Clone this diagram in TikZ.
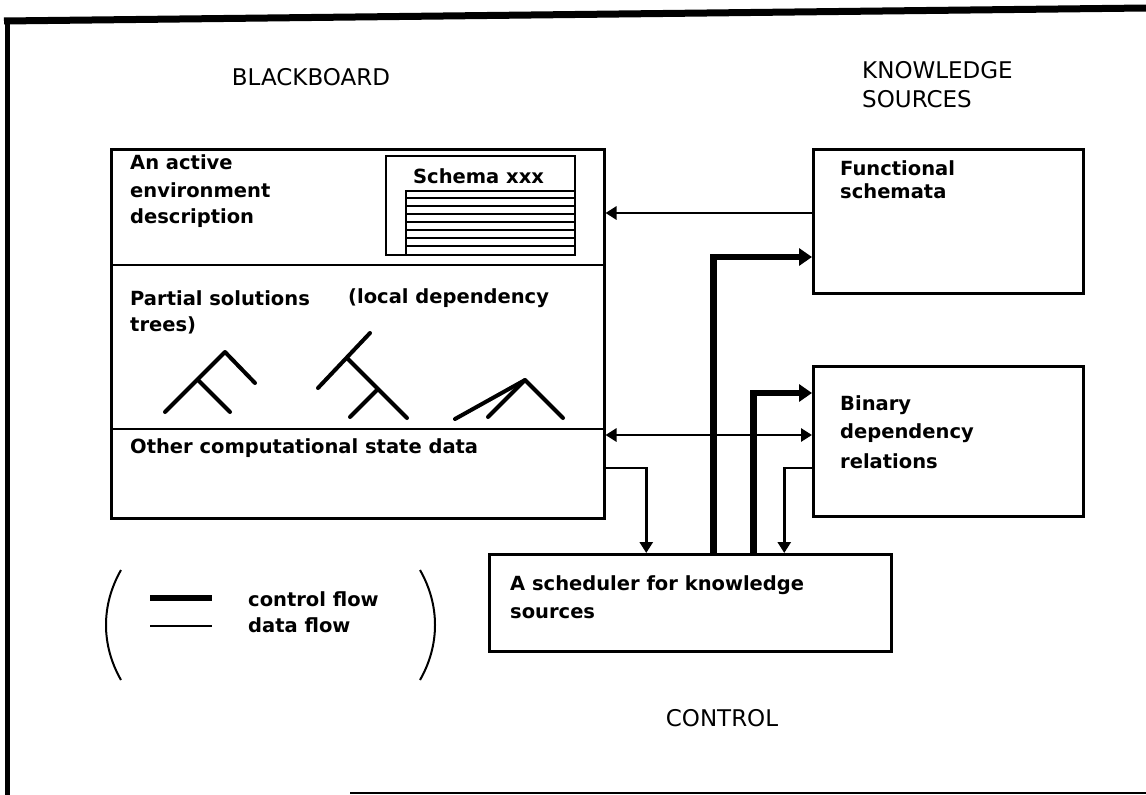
\documentclass[tikz,border=0pt]{standalone}
\usepackage{fontspec}
\setmainfont{DejaVu Sans}
\usetikzlibrary{arrows.meta,calc}
\begin{document}
\begin{tikzpicture}[x=1pt,y=-1pt,
  box/.style={draw,line width=2.5pt,inner sep=0pt,anchor=north west},
  lbl/.style={inner sep=0pt,anchor=west,font=\bfseries\fontsize{19.5}{23}\selectfont},
  ttl/.style={inner sep=0pt,font=\fontsize{23}{29}\selectfont},
  data/.style={line width=2.8pt,-{Triangle[length=11pt,width=13pt]}},
  datab/.style={line width=2.8pt,{Triangle[length=11pt,width=13pt]}-{Triangle[length=11pt,width=13pt]}},
  ctrl/.style={line width=6.5pt,-{Triangle[length=13pt,width=17pt]}},
  tree/.style={line width=4pt,line cap=round,line join=round}]
\useasboundingbox (0,0) rectangle (1146,795);
% frame
\draw[line width=7pt] (4,21) -- (1146,8);
\draw[line width=5pt] (7,18) -- (7,795);
\draw[line width=2pt] (350,793) -- (1146,793);
% titles
\node[ttl] (tbb) at (311,77) {BLACKBOARD};
\node[ttl,align=left,anchor=north west] (tks) at (862,61) {KNOWLEDGE\\SOURCES};
\node[ttl] (tct) at (722,718) {CONTROL};
% blackboard
\node[box,minimum width=493pt,minimum height=369pt] (bb) at (110,148) {};
\coordinate (d1) at (110,265);
\coordinate (d2) at (110,429);
\draw[line width=2.5pt] (d1) -- (d1 -| bb.east);
\draw[line width=2.5pt] (d2) -- (d2 -| bb.east);
\node[lbl] (t1) at (130,162) {An active};
\node[lbl] (t2) at (130,190) {environment};
\node[lbl] (t3) at (130,218) {description};
% schema
\node[box,line width=2pt,minimum width=189pt,minimum height=99pt] (sc) at (385,155) {};
\node[lbl] (sct) at (413,176) {Schema xxx};
\node[box,line width=2pt,minimum width=169pt,minimum height=64pt] (scl) at (405,190) {};
\foreach \k in {1,...,7} {\draw[line width=2pt] ($(scl.north west)+(0,8*\k)$) -- ($(scl.north east)+(0,8*\k)$);}
\node[lbl] (p1) at (130,298) {Partial solutions};
\node[lbl] (p2) at (348,298) {(local dependency};
\node[lbl] (p3) at (130,325) {trees)};
% trees
\draw[tree] (165,412) -- (225,352) -- (255,383);
\draw[tree] (198,380) -- (230,412);
\draw[tree] (318,388) -- (370,333);
\draw[tree] (347,358) -- (407,418);
\draw[tree] (377,390) -- (350,417);
\draw[tree] (455,419) -- (525,380) -- (563,418);
\draw[tree] (488,417) -- (525,380);
\node[lbl] (o1) at (130,448) {Other computational state data};
% knowledge sources
\node[box,minimum width=270pt,minimum height=144pt] (fs) at (812,148) {};
\node[lbl] (f1) at (840,168) {Functional};
\node[lbl] (f2) at (840,191) {schemata};
\node[box,minimum width=270pt,minimum height=150pt] (bd) at (812,365) {};
\node[lbl] (b1) at (840,405) {Binary};
\node[lbl] (b2) at (840,433) {dependency};
\node[lbl] (b3) at (840,461) {relations};
% scheduler
\node[box,minimum width=402pt,minimum height=97pt] (sch) at (488,553) {};
\node[lbl] (s1) at (510,585) {A scheduler for knowledge};
\node[lbl] (s2) at (510,613) {sources};
% connectors
\draw[data] (fs.west |- 0,213) -- (bb.east |- 0,213);
\draw[ctrl] ([xshift=23pt]sch.north) |- (fs.west |- 0,257);
\draw[ctrl] ([xshift=63pt]sch.north) |- (bd.west |- 0,393);
\draw[datab] (bb.east |- 0,435) -- (bd.west |- 0,435);
\draw[data] (bb.east |- 0,468) -| ([xshift=-44pt]sch.north);
\draw[data] (bd.west |- 0,468) -| ([xshift=94pt]sch.north);
% legend
\draw[line width=2pt] (121,570) .. controls (101,605) and (101,645) .. (121,680);
\draw[line width=2pt] (420,570) .. controls (440,605) and (440,645) .. (420,680);
\coordinate (lc1) at (150,598);
\coordinate (lc2) at (212,598);
\coordinate (ld1) at (150,626);
\coordinate (ld2) at (212,626);
\draw[line width=6.5pt] (lc1) -- (lc2);
\draw[line width=2pt] (ld1) -- (ld2);
\node[lbl] (l1) at (248,599) {control flow};
\node[lbl] (l2) at (248,625) {data flow};
\end{tikzpicture}
\end{document}
